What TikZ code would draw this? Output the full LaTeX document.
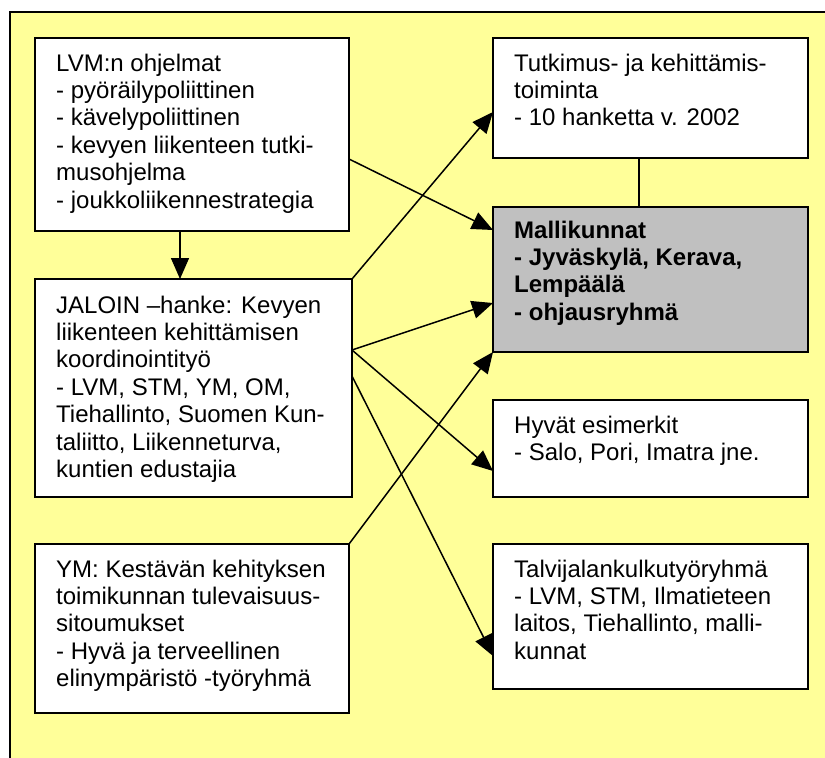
\documentclass[tikz,border=0pt]{standalone}
\usepackage{fontspec}
\setmainfont{Liberation Sans}
\usetikzlibrary{arrows.meta,calc}
\definecolor{bgyellow}{HTML}{FFFF99}
\definecolor{boxgray}{HTML}{C0C0C0}
\begin{document}
\begin{tikzpicture}[x=1pt,y=-1pt,
  box/.style={draw=black,line width=2pt,fill=white,inner sep=0pt,outer sep=0pt,anchor=north west},
  txt/.style={anchor=north west,align=left,inner sep=0pt,font=\fontsize{24}{27.4}\selectfont},
  conn/.style={line width=1.5pt},
  arr/.style={conn,-{Triangle[length=21pt,width=18pt]}}]
\useasboundingbox (0,0) rectangle (825,758);
\clip (0,0) rectangle (825,758);
\fill[white] (0,0) rectangle (825,758);
\draw[line width=2.2pt,fill=bgyellow] (10,12) rectangle (840,780);
% boxes
\node[box,minimum width=314pt,minimum height=193pt] (lvm) at (35,38) {};
\node[box,minimum width=317pt,minimum height=218pt] (jal) at (35,279) {};
\node[box,minimum width=314pt,minimum height=169pt] (ym) at (35,544) {};
\node[box,minimum width=315pt,minimum height=120pt] (tut) at (493,38) {};
\node[box,fill=boxgray,minimum width=315pt,minimum height=145pt] (mall) at (493,207) {};
\node[box,minimum width=315pt,minimum height=97pt] (hyv) at (493,400) {};
\node[box,minimum width=315pt,minimum height=145pt] (talvi) at (493,544) {};
% texts
\node[txt] (tlvm) at ($(lvm.north west)+(21,15.5)$) {LVM:n ohjelmat\\- pyöräilypoliittinen\\- kävelypoliittinen\\- kevyen liikenteen tutki-\\musohjelma\\- joukkoliikennestrategia};
\node[txt] (tjal) at ($(jal.north west)+(21,16.5)$) {JALOIN –hanke: Kevyen\\liikenteen kehittämisen\\koordinointityö\\- LVM, STM, YM, OM,\\Tiehallinto, Suomen Kun-\\taliitto, Liikenneturva,\\kuntien edustajia};
\node[txt] (tym) at ($(ym.north west)+(21,15.5)$) {YM: Kestävän kehityksen\\toimikunnan tulevaisuus-\\sitoumukset\\- Hyvä ja terveellinen\\elinympäristö -työryhmä};
\node[txt] (ttut) at ($(tut.north west)+(21,15.5)$) {Tutkimus- ja kehittämis-\\toiminta\\- 10 hanketta v. 2002};
\node[txt,font=\fontsize{24}{27.4}\selectfont\bfseries] (tmall) at ($(mall.north west)+(21,13.5)$) {Mallikunnat\\- Jyväskylä, Kerava,\\Lempäälä\\- ohjausryhmä};
\node[txt] (thyv) at ($(hyv.north west)+(21,15.5)$) {Hyvät esimerkit\\- Salo, Pori, Imatra jne.};
\node[txt] (ttalvi) at ($(talvi.north west)+(21,15.5)$) {Talvijalankulkutyöryhmä\\- LVM, STM, Ilmatieteen\\laitos, Tiehallinto, malli-\\kunnat};
% connectors
\coordinate (a1) at ([xshift=-12pt]lvm.south);
\draw[arr] (a1) -- (a1 |- jal.north);
\draw[arr] ([yshift=-24.5pt]lvm.east) -- ([yshift=49.5pt]mall.west);
\draw[arr] (jal.north east) -- ([yshift=-14pt]tut.west);
\draw[arr] ([yshift=38pt]jal.east) -- ([yshift=-23.5pt]mall.west);
\draw[arr] ([yshift=38pt]jal.east) -- ([yshift=-22.5pt]hyv.west);
\draw[arr] ([yshift=12pt]jal.east) -- ([yshift=-39.5pt]talvi.west);
\draw[arr] (ym.north east) -- (mall.south west);
\coordinate (t1) at ([xshift=-11.5pt]tut.south);
\draw[conn] (t1) -- (t1 |- mall.north);
\end{tikzpicture}
\end{document}
